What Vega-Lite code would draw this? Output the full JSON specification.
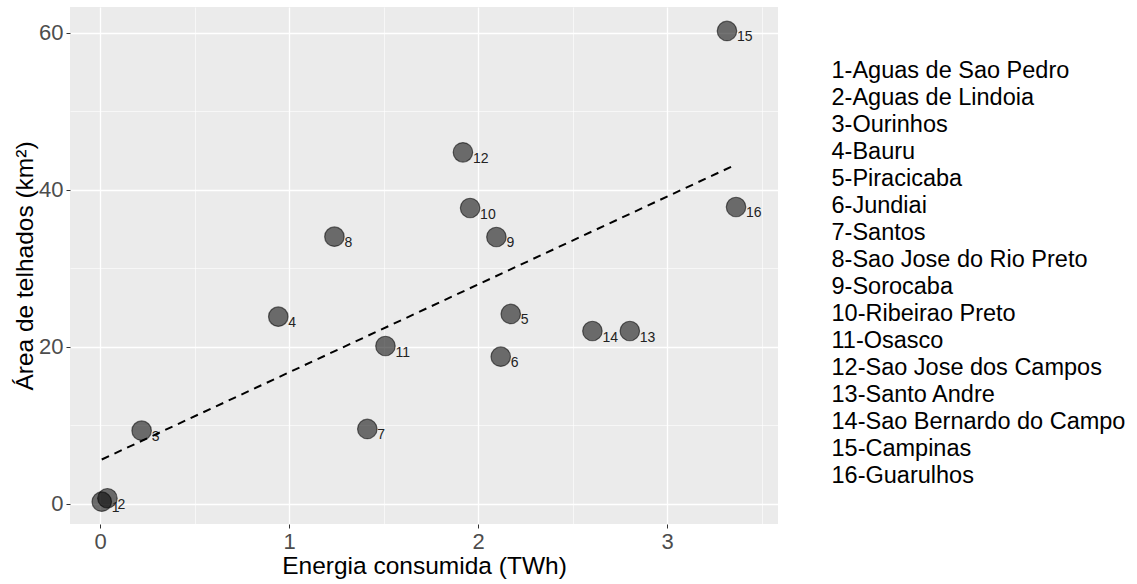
{
  "$schema": "https://vega.github.io/schema/vega-lite/v6.json",
  "autosize": "none",
  "width": 708,
  "height": 517,
  "padding": {"left": 70, "top": 7, "right": 359, "bottom": 60},
  "background": "white",
  "config": {
    "view": {"fill": "#EBEBEB", "stroke": null},
    "font": "Liberation Sans"
  },
  "data": {
    "values": [
      {"id": 1, "rotulo": "1-Aguas de Sao Pedro", "energia": 0.009, "area": 0.29},
      {"id": 2, "rotulo": "2-Aguas de Lindoia", "energia": 0.039, "area": 0.73},
      {"id": 3, "rotulo": "3-Ourinhos", "energia": 0.22, "area": 9.33},
      {"id": 4, "rotulo": "4-Bauru", "energia": 0.943, "area": 23.85},
      {"id": 5, "rotulo": "5-Piracicaba", "energia": 2.173, "area": 24.19},
      {"id": 6, "rotulo": "6-Jundiai", "energia": 2.12, "area": 18.75},
      {"id": 7, "rotulo": "7-Santos", "energia": 1.414, "area": 9.55},
      {"id": 8, "rotulo": "8-Sao Jose do Rio Preto", "energia": 1.24, "area": 34.03},
      {"id": 9, "rotulo": "9-Sorocaba", "energia": 2.097, "area": 33.99},
      {"id": 10, "rotulo": "10-Ribeirao Preto", "energia": 1.958, "area": 37.68},
      {"id": 11, "rotulo": "11-Osasco", "energia": 1.51, "area": 20.11},
      {"id": 12, "rotulo": "12-Sao Jose dos Campos", "energia": 1.92, "area": 44.77},
      {"id": 13, "rotulo": "13-Santo Andre", "energia": 2.803, "area": 22.02},
      {"id": 14, "rotulo": "14-Sao Bernardo do Campo", "energia": 2.605, "area": 22.02},
      {"id": 15, "rotulo": "15-Campinas", "energia": 3.317, "area": 60.22},
      {"id": 16, "rotulo": "16-Guarulhos", "energia": 3.365, "area": 37.81}
    ]
  },
  "layer": [
    {
      "mark": {"type": "circle", "size": 380, "fillOpacity": 0.55, "stroke": "#000000", "strokeOpacity": 0.55, "strokeWidth": 1.2, "opacity": 1},
      "encoding": {
        "x": {
          "field": "energia", "type": "quantitative",
          "scale": {"domain": [-0.159, 3.587], "nice": false, "zero": false},
          "axis": {
            "title": "Energia consumida (TWh)",
            "values": [0, 0.5, 1, 1.5, 2, 2.5, 3, 3.5],
            "labelExpr": "datum.value % 1 === 0 ? '' + datum.value : ''",
            "tickOpacity": {"condition": {"test": "datum.value % 1 === 0", "value": 1}, "value": 0},
            "gridWidth": {"condition": {"test": "datum.value % 1 === 0", "value": 1.3}, "value": 0.6},
            "gridColor": "#FFFFFF",
            "gridOpacity": 1,
            "domain": false,
            "tickColor": "#333333",
            "tickSize": 4,
            "tickWidth": 1,
            "labelFontSize": 22,
            "labelColor": "#4D4D4D",
            "labelPadding": 3,
            "labelFlush": false,
            "labelOverlap": false,
            "titleFontSize": 24.5,
            "titleColor": "#000000",
            "titleFontWeight": "normal",
            "titleBaseline": "alphabetic",
            "titleY": 49
          }
        },
        "y": {
          "field": "area", "type": "quantitative",
          "scale": {"domain": [-2.55, 63.27], "nice": false, "zero": false},
          "axis": {
            "title": "Área de telhados (km²)",
            "values": [0, 10, 20, 30, 40, 50, 60],
            "labelExpr": "datum.value % 20 === 0 ? '' + datum.value : ''",
            "tickOpacity": {"condition": {"test": "datum.value % 20 === 0", "value": 1}, "value": 0},
            "gridWidth": {"condition": {"test": "datum.value % 20 === 0", "value": 1.3}, "value": 0.6},
            "gridColor": "#FFFFFF",
            "gridOpacity": 1,
            "domain": false,
            "tickColor": "#333333",
            "tickSize": 4,
            "tickWidth": 1,
            "labelFontSize": 22,
            "labelColor": "#4D4D4D",
            "labelPadding": 3,
            "labelFlush": false,
            "labelOverlap": false,
            "titleFontSize": 24.5,
            "titleColor": "#000000",
            "titleFontWeight": "normal",
            "titleBaseline": "alphabetic",
            "titleX": -37.5,
            "titleY": 258.5
          }
        },
        "color": {
          "field": "rotulo", "type": "nominal",
          "sort": {"field": "id", "op": "min"},
          "scale": {"range": ["#000000"]},
          "legend": {
            "orient": "none",
            "legendX": 738,
            "legendY": 52,
            "direction": "vertical",
            "title": null,
            "symbolSize": 0,
            "symbolOpacity": 0,
            "symbolStrokeWidth": 0,
            "labelOffset": 0,
            "labelFontSize": 23.5,
            "labelColor": "#000000",
            "labelLimit": 500,
            "rowPadding": 2.0,
            "padding": 0
          }
        }
      }
    },
    {
      "mark": {"type": "text", "align": "left", "baseline": "middle", "dx": 10, "dy": 6.5, "fontSize": 14, "color": "#222222"},
      "encoding": {
        "x": {"field": "energia", "type": "quantitative"},
        "y": {"field": "area", "type": "quantitative"},
        "text": {"field": "id", "type": "nominal"}
      }
    },
    {
      "transform": [{"regression": "area", "on": "energia"}],
      "mark": {"type": "line", "color": "#000000", "strokeWidth": 2, "strokeDash": [8, 6]},
      "encoding": {
        "x": {"field": "energia", "type": "quantitative"},
        "y": {"field": "area", "type": "quantitative"}
      }
    }
  ]
}
